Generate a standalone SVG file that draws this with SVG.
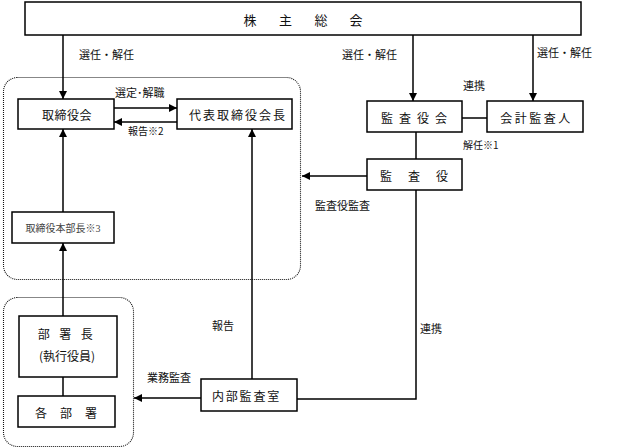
<svg xmlns="http://www.w3.org/2000/svg" width="628" height="448" viewBox="0 0 628 448">
<defs>
<marker id="ah" viewBox="0 0 10 10" refX="10" refY="5" markerWidth="8" markerHeight="8" markerUnits="userSpaceOnUse" orient="auto">
<path d="M0,0 L10,5 L0,10 Z" fill="#000"/>
</marker>
<style>
.box{fill:#fff;stroke:#000;stroke-width:1.5}
.grp{fill:none;stroke:#111;stroke-width:1.1;stroke-dasharray:1 1}
.ln{fill:none;stroke:#000;stroke-width:1.5}
.arr{fill:none;stroke:#000;stroke-width:1.5;marker-end:url(#ah)}
text{font-family:"Noto Sans CJK JP","Noto Sans CJK SC",sans-serif;fill:#111;dominant-baseline:central}
.t{font-size:12px;text-anchor:middle}
.l{font-size:11px}
.s{font-size:10px}
.sr{font-family:"Liberation Serif","Noto Sans CJK JP",serif;font-size:10px;text-anchor:middle;fill:#444}
</style>
</defs>
<rect width="628" height="448" fill="#fff"/>

<g id="groups">
<rect class="grp" x="3.5" y="77.5" width="297" height="202" rx="14"/>
<rect class="grp" x="3.5" y="297.5" width="130" height="149" rx="14"/>
</g>

<g id="connectors">
<line class="arr" x1="63" y1="35" x2="63" y2="99"/>
<line class="arr" x1="413" y1="35" x2="413" y2="101"/>
<line class="arr" x1="533" y1="35" x2="533" y2="101"/>
<line class="arr" x1="114" y1="108" x2="177" y2="108"/>
<line class="arr" x1="177" y1="122" x2="114" y2="122"/>
<line class="arr" x1="63" y1="212" x2="63" y2="129"/>
<line class="arr" x1="63" y1="316" x2="63" y2="243"/>
<line class="ln" x1="63" y1="377" x2="63" y2="396"/>
<line class="ln" x1="462" y1="118" x2="487" y2="118"/>
<line class="ln" x1="416" y1="132" x2="416" y2="159"/>
<line class="arr" x1="367" y1="176" x2="302" y2="176"/>
<polyline class="ln" points="416,190 416,399 297,399"/>
<line class="arr" x1="252" y1="379" x2="252" y2="129"/>
<line class="arr" x1="201" y1="398" x2="134" y2="398"/>
</g>

<g id="n-shareholders">
<rect class="box" x="25" y="2" width="556" height="33"/>
<text class="t" style="font-size:13px"><tspan x="250" y="18.5">株</tspan><tspan x="285.5" y="18.5">主</tspan><tspan x="321" y="18.5">総</tspan><tspan x="356" y="18.5">会</tspan></text>
</g>

<g id="n-board">
<rect class="box" x="18" y="99" width="96" height="30"/>
<text class="t" x="67" y="114.5" letter-spacing="0.5">取締役会</text>
</g>

<g id="n-president">
<rect class="box" x="177" y="99" width="115" height="30"/>
<text class="t" x="238" y="114" letter-spacing="2">代表取締役会長</text>
</g>

<g id="n-hq-director">
<rect class="box" x="12" y="212" width="102" height="31"/>
<text class="sr" x="63" y="228">取締役本部長※3</text>
</g>

<g id="n-dept-head">
<rect class="box" x="19" y="316" width="98" height="61"/>
<text class="t" x="70" y="333" letter-spacing="9.5">部署長</text>
<text class="t" x="67" y="355">(執行役員)</text>
</g>

<g id="n-depts">
<rect class="box" x="18" y="396" width="97" height="31"/>
<text class="t" x="72.5" y="412" letter-spacing="13">各部署</text>
</g>

<g id="n-internal-audit">
<rect class="box" x="201" y="379" width="96" height="32"/>
<text class="t" x="246.5" y="395.5" letter-spacing="1.8">内部監査室</text>
</g>

<g id="n-audit-board">
<rect class="box" x="367" y="101" width="95" height="31"/>
<text class="t" x="417" y="117" letter-spacing="6">監査役会</text>
</g>

<g id="n-accountant">
<rect class="box" x="487" y="101" width="96" height="31"/>
<text class="t" x="536.5" y="117" letter-spacing="2.5">会計監査人</text>
</g>

<g id="n-auditor">
<rect class="box" x="367" y="159" width="95" height="31"/>
<text class="t" x="422" y="175" letter-spacing="16">監査役</text>
</g>

<g id="labels">
<text class="l" x="79" y="54">選任・解任</text>
<text class="l" x="342" y="54">選任・解任</text>
<text class="l" x="537" y="52">選任・解任</text>
<text class="l" x="115" y="92">選定･解職</text>
<text class="s" x="128" y="130">報告※2</text>
<text class="l" x="463" y="85">連携</text>
<text class="s" x="463" y="144">解任※1</text>
<text class="l" x="315" y="205">監査役監査</text>
<text class="l" x="212" y="325">報告</text>
<text class="l" x="147" y="377">業務監査</text>
<text class="l" x="420" y="328">連携</text>
</g>
</svg>
